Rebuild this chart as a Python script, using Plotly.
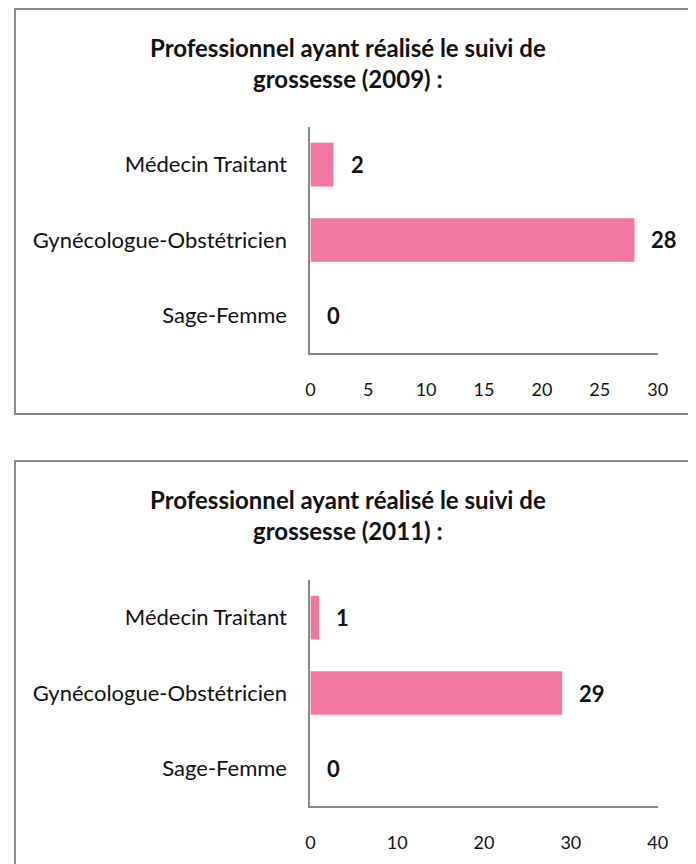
import plotly.graph_objects as go

categories = ["Médecin Traitant", "Gynécologue-Obstétricien", "Sage-Femme"]
valeurs_2009 = [2, 28, 0]
valeurs_2011 = [1, 29, 0]
titres = [
    "Professionnel ayant réalisé le suivi de<br>grossesse (2009) :",
    "Professionnel ayant réalisé le suivi de<br>grossesse (2011) :",
]
plages_x = [[0, 30], [0, 40]]
pas_x = [5, 10]

# la page ajoute une marge de 8 px autour de la figure
MARGE = 8
W, H = 696 - MARGE, 864 - MARGE
ROSE = '#F277A0'
GRIS = '#888888'
POLICE = 'Lato'


def px_x(x):
    return (x - MARGE) / W


def px_y(y):
    return 1 - (y - MARGE) / H


fig = go.Figure()

# positions (pixels de la page) : zone de tracé et cadre de chaque graphique
zones = [
    dict(top=127, bottom=353, box_top=9, box_bottom=414, titre_y=63),
    dict(top=580, bottom=806, box_top=461, box_bottom=900, titre_y=515),
]
series = [valeurs_2009, valeurs_2011]

for i, (vals, zone) in enumerate(zip(series, zones)):
    n = '' if i == 0 else str(i + 1)
    fig.add_trace(go.Bar(
        x=vals,
        y=categories,
        orientation='h',
        marker=dict(color=ROSE, line=dict(width=0)),
        width=0.58,
        xaxis='x' + n,
        yaxis='y' + n,
        hoverinfo='skip',
        showlegend=False,
    ))
    for cat, v in zip(categories, vals):
        fig.add_annotation(
            x=v, y=cat, xref='x' + n, yref='y' + n,
            text=f"<b>{v}</b>", showarrow=False,
            xanchor='left', xshift=15,
            font=dict(family=POLICE, size=22, color='#111111'),
        )

    dom_y = [px_y(zone['bottom']), px_y(zone['top'])]
    fig.update_layout(**{
        'xaxis' + n: dict(
            domain=[px_x(312), px_x(667)],
            range=plages_x[i], dtick=pas_x[i],
            anchor='y' + n,
            showline=True, linecolor=GRIS, linewidth=2,
            showgrid=False, zeroline=False, ticks='',
            ticklabelstandoff=19,
            tickfont=dict(family=POLICE, size=18, color='#111111'),
        ),
        'yaxis' + n: dict(
            domain=dom_y,
            anchor='x' + n,
            autorange='reversed',
            showline=True, linecolor=GRIS, linewidth=2,
            showgrid=False, zeroline=False, ticks='',
            ticklabelstandoff=17,
            tickfont=dict(family=POLICE, size=22, color='#111111'),
        ),
    })

    # cadre
    fig.add_shape(
        type='rect', xref='paper', yref='paper',
        x0=px_x(10), x1=px_x(720),
        y0=px_y(zone['box_bottom']), y1=px_y(zone['box_top']),
        line=dict(color=GRIS, width=2), fillcolor='rgba(0,0,0,0)',
        layer='below',
    )
    # titre
    fig.add_annotation(
        x=px_x(350), y=px_y(zone['titre_y']), xref='paper', yref='paper',
        text=f"<b>{titres[i]}</b>", showarrow=False,
        xanchor='center', yanchor='middle', align='center',
        font=dict(family=POLICE, size=24, color='#111111'),
    )

fig.update_layout(
    width=W, height=H,
    margin=dict(l=0, r=0, t=0, b=0),
    paper_bgcolor='white',
    plot_bgcolor='white',
    bargap=0.42,
)

fig.write_html("out.html")
